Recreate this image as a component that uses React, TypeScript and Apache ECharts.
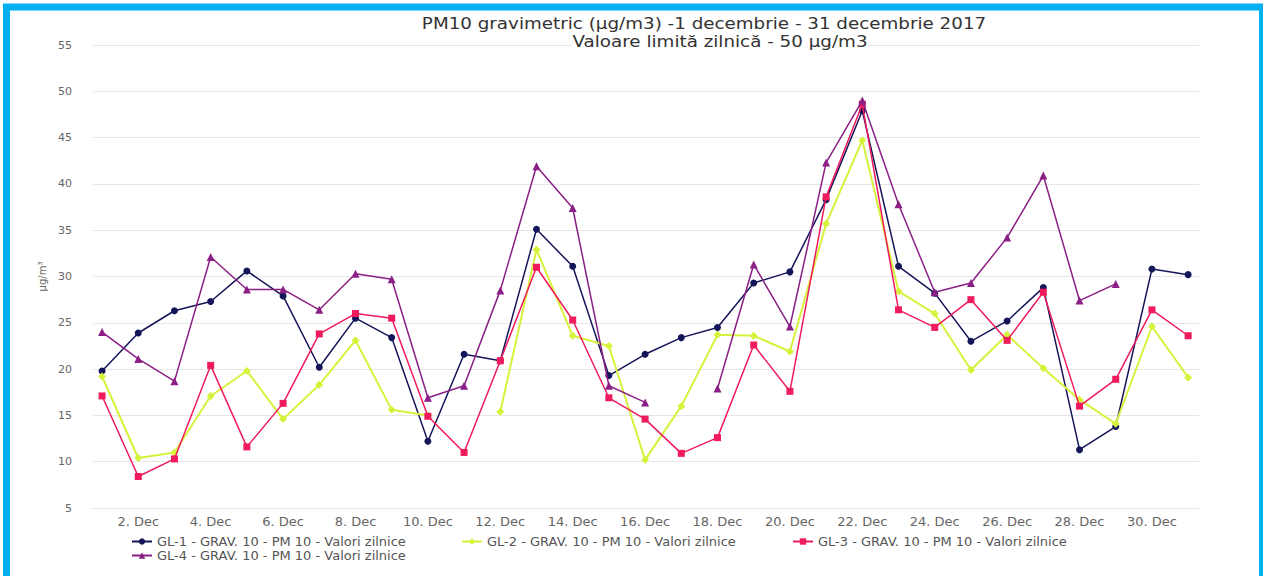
import React, { useEffect, useRef } from "react";
import * as echarts from "echarts";

const days = [1, 2, 3, 4, 5, 6, 7, 8, 9, 10, 11, 12, 13, 14, 15, 16, 17, 18, 19, 20, 21, 22, 23, 24, 25, 26, 27, 28, 29, 30, 31];
const xLabelDays = [2, 4, 6, 8, 10, 12, 14, 16, 18, 20, 22, 24, 26, 28, 30];

const seriesNames = [
  "GL-1 - GRAV. 10 - PM 10 - Valori zilnice",
  "GL-2 - GRAV. 10 - PM 10 - Valori zilnice",
  "GL-3 - GRAV. 10 - PM 10 - Valori zilnice",
  "GL-4 - GRAV. 10 - PM 10 - Valori zilnice",
];

const gl1 = [19.8, 23.9, 26.3, 27.3, 30.6, 27.9, 20.2, 25.5, 23.4, 12.2, 21.6, 20.9, 35.1, 31.1, 19.3, 21.6, 23.4, 24.5, 29.3, 30.5, 38.3, 47.9, 31.1, 28.2, 23.0, 25.2, 28.8, 11.3, 13.8, 30.8, 30.2];
const gl2 = [19.2, 10.4, 11.0, 17.1, 19.8, 14.6, 18.3, 23.1, 15.6, 15.0, null, 15.4, 32.9, 23.6, 22.5, 10.2, 16.0, 23.7, 23.6, 21.9, 35.7, 44.7, 28.4, 26.0, 19.9, 23.7, 20.1, 16.7, 14.1, 24.6, 19.1];
const gl3 = [17.1, 8.4, 10.3, 20.4, 11.6, 16.3, 23.8, 26.0, 25.5, 14.9, 11.0, 20.9, 31.0, 25.3, 16.9, 14.6, 10.9, 12.6, 22.6, 17.6, 38.6, 48.6, 26.4, 24.5, 27.5, 23.1, 28.3, 16.0, 18.9, 26.4, 23.6];
const gl4 = [24.0, 21.1, 18.7, 32.1, 28.6, 28.6, 26.4, 30.3, 29.7, 16.9, 18.2, 28.5, 41.9, 37.4, 18.2, 16.4, null, 17.9, 31.3, 24.6, 42.3, 49.0, 37.8, 28.3, 29.3, 34.2, 40.9, 27.4, 29.2, null, null];

const seriesValues = [gl1, gl2, gl3, gl4];
const colors = ["#15155a", "#d6f23a", "#ef1b5c", "#8a1f86"];
const symbols = ["circle", "diamond", "rect", "triangle"];
const symbolSizes = [7, 8, 7, 8];

const titleLine1 = "PM10 gravimetric (µg/m3) -1 decembrie - 31 decembrie 2017";
const titleLine2 = "Valoare limită zilnică - 50 µg/m3";

const FONT = "'DejaVu Sans', 'Liberation Sans', sans-serif";

// legend placement: [left, top] for each series entry
const legendSpots = [
  [131, 535],
  [461, 535],
  [792, 535],
  [131, 549],
];

export default function App() {
  const ref = useRef<HTMLDivElement>(null);

  useEffect(() => {
    if (!ref.current) return;
    const chart = echarts.init(ref.current, undefined, { renderer: "svg" });

    const series = seriesValues.map((vals, si) => ({
      name: seriesNames[si],
      type: "line",
      data: days.map((d, i) => [d, vals[i] == null ? "-" : vals[i]]),
      symbol: symbols[si],
      symbolSize: symbolSizes[si],
      showSymbol: true,
      connectNulls: false,
      itemStyle: { color: colors[si] },
      lineStyle: { color: colors[si], width: si === 1 ? 2 : 1.5 },
      z: 2 + si,
    }));

    const legends = seriesNames.map((name, i) => ({
      data: [name],
      left: legendSpots[i][0],
      top: legendSpots[i][1],
      orient: "horizontal",
      itemWidth: 20,
      itemHeight: 8,
      padding: 0,
      textStyle: { color: "#555555", fontSize: 13, fontFamily: FONT },
    }));

    chart.setOption({
      animation: false,
      backgroundColor: "#ffffff",
      textStyle: { fontFamily: FONT },
      grid: { left: 93, right: 64, top: 45, bottom: 68, containLabel: false },
      xAxis: {
        type: "value",
        min: 0.75,
        max: 31.3,
        splitLine: { show: false },
        axisLine: { show: true, lineStyle: { color: "#e6e6e6" } },
        axisTick: { show: false },
        axisLabel: {
          customValues: xLabelDays,
          formatter: (v: number) => `${v}. Dec`,
          color: "#666666",
          fontSize: 13,
          fontFamily: FONT,
          margin: 7,
        },
      },
      yAxis: {
        type: "value",
        min: 5,
        max: 55,
        interval: 5,
        name: "µg/m³",
        nameLocation: "middle",
        nameGap: 46,
        nameRotate: 90,
        nameTextStyle: { color: "#666666", fontSize: 10, fontFamily: FONT },
        axisLine: { show: false },
        axisTick: { show: false },
        axisLabel: { color: "#666666", fontSize: 11, fontFamily: FONT, margin: 21 },
        splitLine: { show: true, lineStyle: { color: "#e6e6e6", width: 1 } },
      },
      legend: legends,
      graphic: [
        {
          type: "rect",
          shape: { x: 6.5, y: 7, width: 1256, height: 640 },
          style: { fill: "none", stroke: "#00b0f0", lineWidth: 7 },
          silent: true,
          z: 100,
        },
        {
          type: "text",
          x: 704,
          y: 24,
          scaleX: 1.22,
          z: 100,
          style: {
            text: titleLine1,
            align: "center",
            verticalAlign: "middle",
            fill: "#333333",
            fontSize: 15,
            fontFamily: FONT,
          },
        },
        {
          type: "text",
          x: 720,
          y: 42,
          scaleX: 1.22,
          z: 100,
          style: {
            text: titleLine2,
            align: "center",
            verticalAlign: "middle",
            fill: "#333333",
            fontSize: 15,
            fontFamily: FONT,
            backgroundColor: "#ffffff",
          },
        },
      ],
      series,
    });

    return () => chart.dispose();
  }, []);

  return (
    <div
      ref={ref}
      style={{ position: "fixed", left: 0, top: 0, width: 1263, height: 576, background: "#fff" }}
    />
  );
}
